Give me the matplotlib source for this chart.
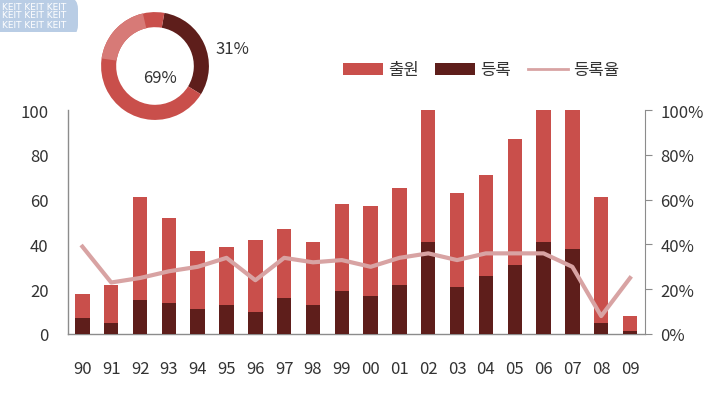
import matplotlib
matplotlib.use("Agg")
import matplotlib.pyplot as plt
from matplotlib.patches import Patch, FancyBboxPatch, Wedge
from matplotlib.lines import Line2D
import numpy as np

plt.rcParams['font.family'] = ['Noto Sans CJK KR', 'DejaVu Sans']

years = ['90', '91', '92', '93', '94', '95', '96', '97', '98', '99',
         '00', '01', '02', '03', '04', '05', '06', '07', '08', '09']
applications = [18, 22, 61, 52, 37, 39, 42, 47, 41, 58, 57, 65, 100, 63, 71, 87, 100, 100, 61, 8]
registrations = [7, 5, 15, 14, 11, 13, 10, 16, 13, 19, 17, 22, 41, 21, 26, 31, 41, 38, 5, 1.5]
reg_rate = [39, 23, 25, 28, 30, 34, 24, 34, 32, 33, 30, 34, 36, 33, 36, 36, 36, 30, 8, 25]
donut_values = [31, 69]
donut_labels = ['31%', '69%']
legend_labels = ['출원', '등록', '등록율']
left_ticks = [0, 20, 40, 60, 80, 100]
right_ticks = ['0%', '20%', '40%', '60%', '80%', '100%']

c_app = '#c94f4b'
c_reg = '#5e1e1b'
c_line = '#d8a3a3'
c_spine = '#8c8c8c'
c_text = '#333333'

W, H = 727, 402
fig = plt.figure(figsize=(W / 100, H / 100), dpi=100)

# main axes
ax = fig.add_axes([68 / W, (H - 335) / H, (645 - 68) / W, (335 - 111) / H])
x = np.arange(len(years))
ax.bar(x, applications, width=0.5, color=c_app, zorder=2)
ax.bar(x, registrations, width=0.5, color=c_reg, zorder=3)
ax.set_ylim(0, 100)
ax.set_xlim(-0.5, len(years) - 0.48)
ax.set_yticks(left_ticks)
ax.set_yticklabels([str(t) for t in left_ticks], fontsize=12, color=c_text)
ax.tick_params(axis='y', length=0, pad=14)
ax.set_xticks(x)
ax.set_xticklabels(years, fontsize=12, color=c_text)
ax.tick_params(axis='x', length=0, pad=19)
for s in ['top', 'right']:
    ax.spines[s].set_visible(False)
for s in ['left', 'bottom']:
    ax.spines[s].set_color(c_spine)
    ax.spines[s].set_linewidth(1.0)

ax2 = ax.twinx()
ax2.plot(x, reg_rate, color=c_line, lw=3, zorder=4, solid_joinstyle='round')
ax2.set_ylim(0, 100)
ax2.set_yticks([0, 20, 40, 60, 80, 100])
ax2.set_yticklabels(right_ticks, fontsize=12, color=c_text)
ax2.tick_params(axis='y', length=5, color=c_spine, pad=6)
for s in ['top', 'left', 'bottom']:
    ax2.spines[s].set_visible(False)
ax2.spines['right'].set_color(c_spine)
ax2.set_zorder(ax.get_zorder() + 1)
ax2.patch.set_visible(False)

# legend
handles = [Patch(facecolor=c_app, edgecolor='none'),
           Patch(facecolor=c_reg, edgecolor='none'),
           Line2D([0], [0], color=c_line, lw=2)]
fig.legend(handles, legend_labels, loc='center', bbox_to_anchor=(481 / W, (H - 71) / H),
           ncol=3, frameon=False, fontsize=12, handlelength=2.4, handleheight=0.7,
           handletextpad=0.3, columnspacing=1.0, labelcolor=c_text)

# donut
cx, cy, r = 155, 67, 55
dax = fig.add_axes([(cx - r) / W, (H - cy - r) / H, 2 * r / W, 2 * r / H])
wedges, _ = dax.pie(donut_values, colors=[c_reg, c_app], startangle=80, counterclock=False,
                    radius=1.0, wedgeprops=dict(width=0.28, edgecolor='none'))
# soft highlight on the upper-left of the ring (visual shading only)
dax.add_patch(Wedge((0, 0), 1.0, 103, 172, width=0.28, facecolor='#d77a77', edgecolor='none'))
dax.set_xlim(-1.02, 1.02)
dax.set_ylim(-1.02, 1.02)
dax.set_aspect('equal')
dax.text(0.09, -0.22, donut_labels[1], ha='center', va='center', fontsize=12, color=c_text)
fig.text(232 / W, (H - 50) / H, donut_labels[0], ha='center', va='center', fontsize=12, color=c_text)

# watermark (background decoration)
wax = fig.add_axes([0, (H - 33) / H, 82 / W, 33 / H])
wax.set_xlim(0, 82)
wax.set_ylim(0, 33)
wax.axis('off')
wax.add_patch(FancyBboxPatch((-10, -5), 88, 40, boxstyle='round,pad=0,rounding_size=12',
                             facecolor='#b9cde5', edgecolor='none'))
for yy in [26, 17, 8]:
    wax.text(2, yy, 'KEIT KEIT KEIT', fontsize=6.5, color='white',
             family='DejaVu Sans', va='center')

fig.savefig('out.png', dpi=100)
